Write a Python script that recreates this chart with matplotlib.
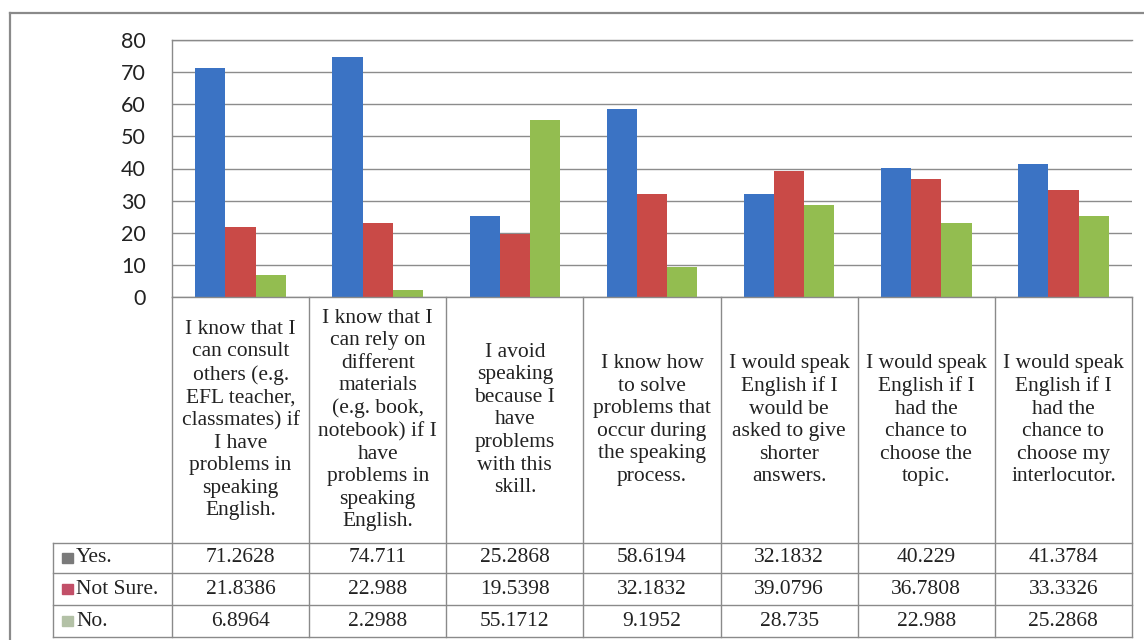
import numpy as np
import matplotlib.pyplot as plt
from matplotlib.lines import Line2D
from matplotlib.patches import Rectangle

# survey statements (column headers of the data table)
statements = [
    "I know that I\ncan consult\nothers (e.g.\nEFL teacher,\nclassmates) if\nI have\nproblems in\nspeaking\nEnglish.",
    "I know that I\ncan rely on\ndifferent\nmaterials\n(e.g. book,\nnotebook) if I\nhave\nproblems in\nspeaking\nEnglish.",
    "I avoid\nspeaking\nbecause I\nhave\nproblems\nwith this\nskill.",
    "I know how\nto solve\nproblems that\noccur during\nthe speaking\nprocess.",
    "I would speak\nEnglish if I\nwould be\nasked to give\nshorter\nanswers.",
    "I would speak\nEnglish if I\nhad the\nchance to\nchoose the\ntopic.",
    "I would speak\nEnglish if I\nhad the\nchance to\nchoose my\ninterlocutor.",
]
series_names = ["Yes.", "Not Sure.", "No."]
yes_vals = [71.2628, 74.711, 25.2868, 58.6194, 32.1832, 40.229, 41.3784]
notsure_vals = [21.8386, 22.988, 19.5398, 32.1832, 39.0796, 36.7808, 33.3326]
no_vals = [6.8964, 2.2988, 55.1712, 9.1952, 28.735, 22.988, 25.2868]
table_text = [
    ["71.2628", "74.711", "25.2868", "58.6194", "32.1832", "40.229", "41.3784"],
    ["21.8386", "22.988", "19.5398", "32.1832", "39.0796", "36.7808", "33.3326"],
    ["6.8964", "2.2988", "55.1712", "9.1952", "28.735", "22.988", "25.2868"],
]

bar_colors = ["#3b73c4", "#c94a47", "#93bd50"]
key_colors = ["#7a7a7a", "#c24f68", "#b3c1a6"]
grid_col = "#8c8c8c"
line_col = "#8a8a8a"

W, H = 1144, 640
fig = plt.figure(figsize=(W / 100, H / 100), dpi=100)

def px_box(x0, y0, x1, y1):
    # pixel box (top-left origin) -> figure fraction rect
    return [x0 / W, 1 - y1 / H, (x1 - x0) / W, (y1 - y0) / H]

# outer frame
fig.add_artist(Line2D([10 / W, 1], [1 - 13 / H, 1 - 13 / H], color="#8a8a8a", lw=1.6))
fig.add_artist(Line2D([10 / W, 10 / W], [0, 1 - 13 / H], color="#8a8a8a", lw=1.6))

# bar chart
ax = fig.add_axes(px_box(172, 40, 1132, 297))
x = np.arange(len(statements))
bw = 0.22
for i, vals in enumerate([yes_vals, notsure_vals, no_vals]):
    ax.bar(x + (i - 1) * bw, vals, width=bw, color=bar_colors[i], zorder=3)
ax.set_xlim(-0.5, len(statements) - 0.5)
ax.set_ylim(0, 80)
ax.set_yticks(np.arange(0, 81, 10))
ax.set_xticks([])
ax.yaxis.grid(True, color=grid_col, lw=1.0)
ax.set_axisbelow(True)
for s in ["right", "bottom"]:
    ax.spines[s].set_visible(False)
for s in ["left", "top"]:
    ax.spines[s].set_color(line_col)
    ax.spines[s].set_linewidth(1.0)
ax.tick_params(axis="y", length=0, pad=19, labelsize=15.5, labelcolor="#222222")
for lbl in ax.get_yticklabels():
    lbl.set_fontfamily("Lato")

# data table below the chart
tax = fig.add_axes(px_box(172, 297, 1132, 637), sharex=ax)
tax.set_ylim(340, 0)
tax.axis("off")
px_unit = 960 / len(statements)
label_left = -0.5 - 119 / px_unit
rows = [0, 246, 276, 308, 340]

lk = dict(color=line_col, lw=1.0, clip_on=False)
tax.plot([-0.5, 6.5], [0, 0], **lk)
for yb in rows[1:]:
    tax.plot([label_left, 6.5], [yb, yb], **lk)
for k in range(len(statements) + 1):
    tax.plot([k - 0.5, k - 0.5], [0, rows[-1]], **lk)
tax.plot([label_left, label_left], [rows[1], rows[-1]], **lk)

serif = ["Liberation Serif", "DejaVu Serif"]
for k, s in enumerate(statements):
    tax.text(k, rows[1] / 2, s, ha="center", va="center", fontsize=15.5,
             family=serif, color="#222222", linespacing=1.25)
for r in range(3):
    yc = (rows[r + 1] + rows[r + 2]) / 2
    for k in range(len(statements)):
        tax.text(k, yc, table_text[r][k], ha="center", va="center",
                 fontsize=15.5, family=serif, color="#222222")
    kx = label_left + 9 / px_unit
    tax.add_patch(Rectangle((kx, yc - 5), 11 / px_unit, 10, color=key_colors[r],
                            clip_on=False))
    tax.text(kx + 14 / px_unit, yc, series_names[r], ha="left", va="center",
             fontsize=15.5, family=serif, color="#222222")

fig.savefig("out.png", dpi=100)
